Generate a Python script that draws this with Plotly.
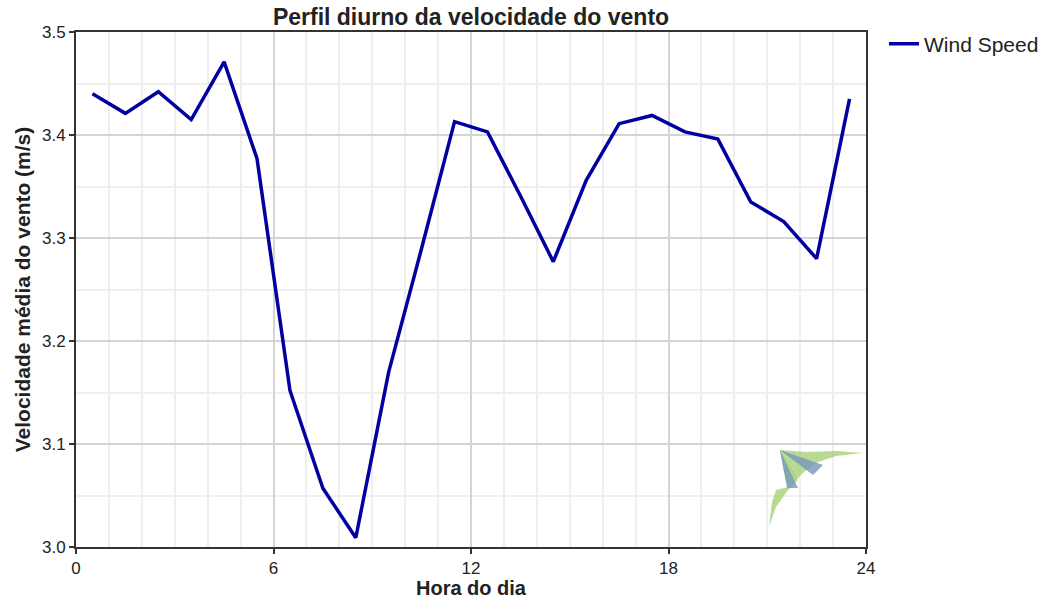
import plotly.graph_objects as go

# Hourly mean wind speed (m/s), sampled at the middle of each hour
hours = [0.5, 1.5, 2.5, 3.5, 4.5, 5.5, 6.5, 7.5, 8.5, 9.5, 10.5, 11.5,
         12.5, 13.5, 14.5, 15.5, 16.5, 17.5, 18.5, 19.5, 20.5, 21.5, 22.5, 23.5]
wind_speed = [3.440, 3.421, 3.442, 3.415, 3.471, 3.377, 3.152, 3.057,
              3.009, 3.170, 3.290, 3.413, 3.403, 3.341, 3.277, 3.356,
              3.411, 3.419, 3.403, 3.396, 3.335, 3.316, 3.280, 3.435]
x_ticks = [0, 6, 12, 18, 24]
y_ticks = [3.0, 3.1, 3.2, 3.3, 3.4, 3.5]

FONT = "Liberation Sans, Arial, sans-serif"
TEXT = "#222222"

fig = go.Figure()
fig.add_trace(go.Scatter(
    x=hours, y=wind_speed, mode="lines", name="Wind Speed",
    line=dict(color="#0000a0", width=3.5),
))

axis_common = dict(
    showline=True, linecolor="#333333", linewidth=2, mirror=True,
    ticks="outside", ticklen=5, tickwidth=1.5, tickcolor="#333333",
    showgrid=True, gridcolor="#d4d4d4", gridwidth=1.5,
    zeroline=False, automargin=False,
    tickfont=dict(family=FONT, size=17, color=TEXT),
)

fig.update_xaxes(
    range=[0, 24], tickvals=x_ticks,
    minor=dict(dtick=1, showgrid=True, gridcolor="#efefef", gridwidth=1.5, ticks=""),
    title=dict(text="<b>Hora do dia</b>", font=dict(family=FONT, size=20, color=TEXT), standoff=5),
    **axis_common,
)
fig.update_yaxes(
    range=[3.0, 3.5], tickvals=y_ticks, tickformat=".1f",
    minor=dict(dtick=0.05, showgrid=True, gridcolor="#efefef", gridwidth=1.5, ticks=""),
    title=dict(text="<b>Velocidade média do vento (m/s)</b>", font=dict(family=FONT, size=21, color=TEXT), standoff=6),
    **axis_common,
)

# Small kite-shaped logo in the lower right corner of the plot area
def px_path(points):
    # points given in pixel offsets relative to the plot area (x from left, y from top)
    w, h = 790.0, 515.0
    segs = []
    for i, (px, py) in enumerate(points):
        xp = px / w
        yp = 1 - py / h
        segs.append(("M" if i == 0 else "L") + f"{xp:.4f},{yp:.4f}")
    return " ".join(segs) + " Z"

green = "rgba(160,205,110,0.75)"
blue = "rgba(120,150,185,0.8)"
logo_shapes = [
    # top green wing
    ([(704, 418), (730, 420), (760, 419), (787, 421), (760, 424), (742, 430), (728, 440), (720, 448)], green),
    # left green wing
    ([(704, 418), (708, 440), (712, 455), (700, 458), (696, 470), (693, 495), (700, 475), (712, 458), (722, 448)], green),
    # blue triangles
    ([(704, 418), (747, 433), (737, 443)], blue),
    ([(704, 418), (722, 456), (711, 456)], blue),
]
for pts, col in logo_shapes:
    fig.add_shape(type="path", path=px_path(pts), xref="paper", yref="paper",
                  fillcolor=col, line=dict(width=0), layer="above")

fig.update_layout(
    width=1047, height=599,
    margin=dict(l=76, r=181, t=32, b=52),
    paper_bgcolor="white", plot_bgcolor="white",
    title=dict(text="<b>Perfil diurno da velocidade do vento</b>",
               font=dict(family=FONT, size=23, color=TEXT),
               x=(76 + 395) / 1047, xanchor="center", y=0.972, yanchor="middle"),
    showlegend=True,
    legend=dict(xref="container", yref="container",
                x=884 / 1047, y=1 - 44 / 599, xanchor="left", yanchor="middle",
                font=dict(family=FONT, size=21, color=TEXT),
                bgcolor="rgba(0,0,0,0)", itemwidth=30),
    font=dict(family=FONT),
)

fig.write_html("out.html")
